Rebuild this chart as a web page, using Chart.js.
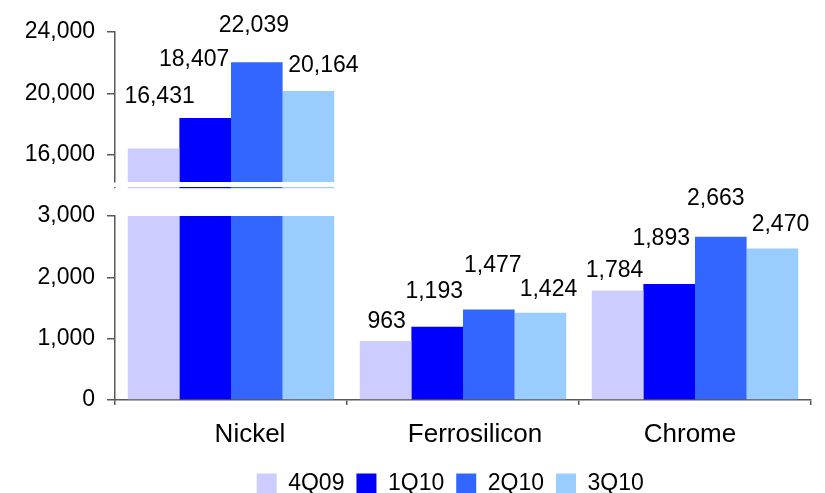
<!DOCTYPE html>
<html>
<head>
<meta charset="utf-8">
<script src="https://cdn.jsdelivr.net/npm/chart.js@4/dist/chart.umd.min.js"></script>
<style>
  html, body { margin: 0; padding: 0; background: #fff; }
</style>
</head>
<body>
<canvas id="chartHarga" width="825" height="493"></canvas>
<script>
const categories = ["Nickel", "Ferrosilicon", "Chrome"];
const seriesNames = ["4Q09", "1Q10", "2Q10", "3Q10"];
const values4Q09 = [16431, 963, 1784];
const values1Q10 = [18407, 1193, 1893];
const values2Q10 = [22039, 1477, 2663];
const values3Q10 = [20164, 1424, 2470];
const lowerTicks = [0, 1000, 2000, 3000];
const upperTicks = [16000, 20000, 24000];

// batas patahan sumbu
const lowerMax = 3000;
const upperMin = 14250;
const upperMax = 24000;

const seriesValues = [values4Q09, values1Q10, values2Q10, values3Q10];
const seriesColors = ["#ccccff", "#0000ff", "#3366ff", "#99ccff"];

// jarak label ke ujung batang (style saja)
const labelGap = [[45, 13, 14], [52, 29, 39], [30, 37, 32], [19, 17, 18]];
const labelShift = [[6, 1, -3], [-11, -3, -8], [-3, 4, -5], [15, 8, 8]];
const catShift = [19, 12, -5];

const fontName = "'Liberation Sans', Arial, sans-serif";
const axisColor = "#595959";

let datasets = [];
seriesValues.forEach(function (vals, i) {
    datasets.push({
        label: seriesNames[i],
        data: vals.map(v => Math.min(v, lowerMax)),
        backgroundColor: seriesColors[i],
        yAxisID: "yLow",
        stack: "s" + i
    });
});
seriesValues.forEach(function (vals, i) {
    datasets.push({
        label: seriesNames[i] + "_atas",
        data: vals.map(v => (v > lowerMax ? v : null)),
        backgroundColor: seriesColors[i],
        yAxisID: "yHigh",
        stack: "s" + i
    });
});

const labelPlugin = {
    id: "labelNilai",
    afterDatasetsDraw(chart) {
        const ctx = chart.ctx;
        const area = chart.chartArea;
        const yBreak = chart.scales.yHigh.bottom + 5;
        ctx.save();

        // garis tipis di bawah patahan
        chart.data.datasets.forEach(function (ds, di) {
            if (di < 4) return;
            chart.getDatasetMeta(di).data.forEach(function (bar, j) {
                if (seriesValues[di % 4][j] <= lowerMax) return;
                ctx.fillStyle = seriesColors[di % 4];
                ctx.fillRect(bar.x - bar.width / 2, yBreak, bar.width, 1.2);
            });
        });
        ctx.fillStyle = axisColor;
        ctx.fillRect(area.left - 1, yBreak, 1.5, 1.2);

        ctx.font = "23px " + fontName;
        ctx.fillStyle = "#000";
        ctx.textAlign = "center";
        ctx.textBaseline = "alphabetic";
        chart.data.datasets.forEach(function (ds, di) {
            const s = di % 4;
            const atas = di >= 4;
            const meta = chart.getDatasetMeta(di);
            meta.data.forEach(function (bar, j) {
                const v = seriesValues[s][j];
                if (atas ? v <= lowerMax : v > lowerMax) return;
                ctx.fillText(v.toLocaleString("en-US"), bar.x + labelShift[s][j], bar.y - labelGap[s][j]);
            });
        });

        // label kategori
        ctx.font = "26px " + fontName;
        const xs = chart.scales.x;
        categories.forEach(function (c, i) {
            ctx.fillText(c, xs.getPixelForValue(i) + catShift[i], area.bottom + 42);
        });
        ctx.restore();
    }
};

function pasTick(list) {
    return function (scale) {
        scale.ticks = list.map(v => ({ value: v }));
    };
}

const yBase = {
    type: "linear",
    position: "left",
    stack: "kiri",
    afterFit: function (scale) { scale.width = 115; },
    border: { display: true, color: axisColor, width: 1.5 },
    grid: { drawOnChartArea: false, drawTicks: true, tickLength: 8, color: axisColor, lineWidth: 1.5 },
    ticks: {
        padding: 12,
        color: "#000",
        font: { family: fontName, size: 23 },
        callback: (value) => value.toLocaleString("en-US")
    }
};

new Chart(document.getElementById("chartHarga"), {
    type: "bar",
    data: { labels: categories, datasets: datasets },
    options: {
        responsive: false,
        animation: false,
        layout: { padding: { top: 32, right: 14, left: 0, bottom: -12 } },
        datasets: { bar: { categoryPercentage: 0.89, barPercentage: 1 } },
        plugins: {
            tooltip: { enabled: false },
            legend: {
                position: "bottom",
                fullSize: false,
                labels: {
                    generateLabels: function (chart) {
                        const items = Chart.defaults.plugins.legend.labels.generateLabels(chart)
                            .filter(item => item.datasetIndex < 4);
                        // spasi di akhir supaya legenda agak geser ke kiri
                        items[items.length - 1].text += "    ";
                        return items;
                    },
                    boxWidth: 20,
                    boxHeight: 20,
                    padding: 12,
                    color: "#000",
                    font: { family: fontName, size: 23, lineHeight: 1 }
                }
            }
        },
        scales: {
            // urutan: yang terakhir ditaruh paling atas
            yLow: Object.assign({}, yBase, {
                stackWeight: 184,
                min: 0,
                max: lowerMax,
                afterBuildTicks: pasTick(lowerTicks)
            }),
            yGap: {
                type: "linear",
                position: "left",
                stack: "kiri",
                stackWeight: 34,
                afterFit: function (scale) { scale.width = 115; },
                border: { display: false },
                grid: { display: false },
                ticks: { display: false }
            },
            yHigh: Object.assign({}, yBase, {
                stackWeight: 150,
                min: upperMin,
                max: upperMax,
                afterBuildTicks: pasTick(upperTicks)
            }),
            x: {
                afterFit: function (scale) { scale.height = 60; },
                border: { display: true, color: axisColor, width: 1.5 },
                grid: { offset: true, drawOnChartArea: false, tickLength: 5, color: axisColor, lineWidth: 1.5 },
                ticks: { display: false }
            }
        }
    },
    plugins: [labelPlugin]
});
</script>
</body>
</html>
